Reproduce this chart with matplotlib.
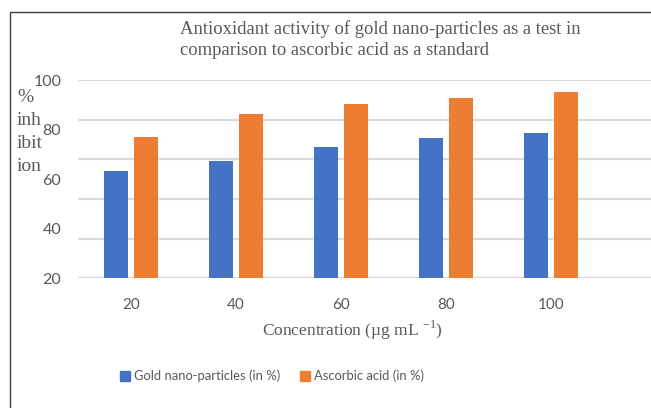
import matplotlib
matplotlib.use("Agg")
import matplotlib.pyplot as plt
import numpy as np
from matplotlib.patches import Patch
from matplotlib.lines import Line2D

categories = ["20", "40", "60", "80", "100"]
gold = [63.3, 67.3, 72.9, 76.6, 78.6]
ascorbic = [77.1, 86.4, 90.4, 92.9, 95.3]
ytick_vals = [20, 40, 60, 80, 100]
grid_vals = [20, 36, 52, 68, 84, 100]

BLUE = "#4472C4"
ORANGE = "#ED7D31"
GRAY = "#595959"
SERIF = ["Liberation Serif", "DejaVu Serif"]
SANS = ["Lato", "DejaVu Sans"]

plt.rcParams['mathtext.fontset'] = 'custom'
plt.rcParams['mathtext.rm'] = 'Liberation Serif'

W, H = 651, 408
fig = plt.figure(figsize=(W / 100, H / 100), dpi=100)
ax = fig.add_axes([78 / W, 1 - 278.3 / H, (651 - 78) / W, (278.3 - 80) / H])

x = np.arange(len(categories))
bw = 24 / 105
gap = 6 / 105
ax.bar(x - (bw + gap) / 2, [g - 20 for g in gold], bw, bottom=20, color=BLUE, zorder=3)
ax.bar(x + (bw + gap) / 2, [a - 20 for a in ascorbic], bw, bottom=20, color=ORANGE, zorder=3)

ax.set_xlim(-0.505, 4.952)
ax.set_ylim(20, 100)
for s in ax.spines.values():
    s.set_visible(False)
for gv in grid_vals:
    ax.axhline(gv, color="#d9d9d9", lw=1.6, zorder=1)

ax.set_yticks(ytick_vals)
ax.set_yticklabels([str(v) for v in ytick_vals], fontfamily=SANS, fontsize=11.5, color=GRAY)
ax.set_xticks(x)
ax.set_xticklabels(categories, fontfamily=SANS, fontsize=11, color=GRAY)
ax.tick_params(axis='y', length=0, pad=12)
ax.tick_params(axis='x', length=0, pad=14)

# outer frame
fig.add_artist(Line2D([10 / W, 10 / W, 1.0], [0.0, 1 - 12 / H, 1 - 12 / H],
                      transform=fig.transFigure, color="#404040", lw=1.0))

fig.text(180 / W, 1 - 20 / H, "Antioxidant activity of gold nano-particles as a test in\ncomparison to ascorbic acid as a standard",
         fontfamily=SERIF, fontsize=13.4, color=GRAY, ha="left", va="top", linespacing=1.32)

fig.text(17 / W, 1 - 89 / H, "%\ninh\nibit\nion", fontfamily=SERIF, fontsize=14, color=GRAY,
         ha="left", va="top", linespacing=1.45)

fig.text(352 / W, 1 - 330 / H, r"Concentration (µg mL $^{\mathregular{-1}}$)", fontfamily=SERIF,
         fontsize=12.5, color=GRAY, ha="center", va="center")

handles = [Patch(color=BLUE, label="Gold nano-particles (in %)"),
           Patch(color=ORANGE, label="Ascorbic acid (in %)")]
fig.legend(handles=handles, loc="center", bbox_to_anchor=(272 / W, 1 - 376 / H), ncol=2,
           frameon=False, handlelength=0.75, handleheight=0.75, handletextpad=0.35,
           columnspacing=1.5, prop={"family": SANS, "size": 9.4}, labelcolor=GRAY)

fig.savefig("out.png", dpi=100)
